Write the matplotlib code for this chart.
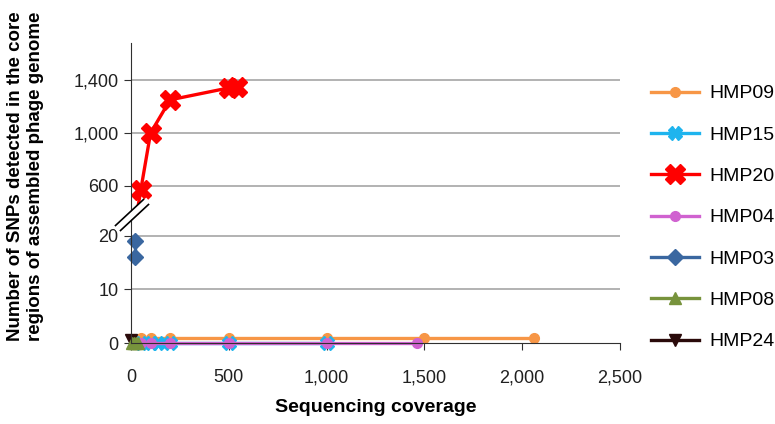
import matplotlib.pyplot as plt
import numpy as np

plt.rcParams['font.family'] = ['Liberation Sans', 'DejaVu Sans']

# coverage / SNP counts
hmp09_x = [50, 100, 200, 500, 1000, 1500, 2060]
hmp09_y = [1, 1, 1, 1, 1, 1, 1]
hmp15_x = [50, 100, 140, 200, 500, 1000]
hmp15_y = [0, 0, 0, 0, 0, 0]
hmp20_x = [20, 50, 100, 200, 500, 540]
hmp20_y = [300, 570, 1000, 1250, 1340, 1350]
hmp04_x = [50, 100, 200, 500, 1000, 1460]
hmp04_y = [0, 0, 0, 0, 0, 0]
hmp03_x = [20, 20]
hmp03_y = [16, 19]
hmp08_x = [5, 15, 25, 35]
hmp08_y = [0, 0, 0, 0]
hmp24_x = [0]
hmp24_y = [0.5]

fig = plt.figure(figsize=(7.75, 4.24), dpi=100)
L, W = 131 / 775, (620 - 131) / 775
ax_top = fig.add_axes([L, 1 - 215 / 424, W, (215 - 43) / 424])
ax_bot = fig.add_axes([L, 1 - 343 / 424, W, (343 - 215) / 424])

grid_c = '#a6a6a6'
for ax in (ax_top, ax_bot):
    ax.set_xlim(0, 2500)
    ax.spines['top'].set_visible(False)
    ax.spines['right'].set_visible(False)
    ax.spines['left'].set_color('#303030')
    ax.tick_params(axis='y', labelsize=13, length=5, color='#303030', pad=4,
                   labelcolor='#202020')
    ax.yaxis.grid(True, color=grid_c, linewidth=1.2)
    ax.set_axisbelow(True)

ax_top.set_ylim(381, 1679)
ax_top.set_yticks([600, 1000, 1400])
ax_top.set_yticklabels(['600', '1,000', '1,400'])
ax_top.spines['bottom'].set_visible(False)
ax_top.tick_params(axis='x', bottom=False, labelbottom=False)

ax_bot.set_ylim(0, 23.9)
ax_bot.set_yticks([0, 10, 20])
ax_bot.spines['bottom'].set_color('#303030')
ax_bot.set_xticks([0, 500, 1000, 1500, 2000, 2500])
ax_bot.set_xticklabels(['0', '500', '1,000', '1,500', '2,000', '2,500'])
ax_bot.tick_params(axis='x', labelsize=13, length=5, color='#303030', pad=14,
                   labelcolor='#202020')
ax_bot.yaxis.get_gridlines()[0].set_visible(False)

lw = 2.4
h09, = ax_bot.plot(hmp09_x, hmp09_y, color='#F79646', marker='o', ms=7, lw=lw, clip_on=False, label='HMP09')
h15, = ax_bot.plot(hmp15_x, hmp15_y, color='#1EB4EE', marker='X', ms=10, lw=lw, clip_on=False, label='HMP15')
h04, = ax_bot.plot(hmp04_x, hmp04_y, color='#D062D0', marker='o', ms=7, lw=lw, clip_on=False, label='HMP04')
h03, = ax_bot.plot(hmp03_x, hmp03_y, color='#3A67A0', marker='D', ms=8, lw=lw, clip_on=False, label='HMP03')
h24, = ax_bot.plot(hmp24_x, hmp24_y, color='#2A0A0A', marker='v', ms=8, lw=lw, clip_on=False, label='HMP24')
h08, = ax_bot.plot(hmp08_x, hmp08_y, color='#77933C', marker='^', ms=8, lw=lw, clip_on=False, label='HMP08')
h20, = ax_top.plot(hmp20_x, hmp20_y, color='#FF0000', marker='X', ms=14, lw=lw, label='HMP20')

# break marks on the y axis: white band between two black slashes
fig.add_artist(plt.Line2D([118 / 775, 146 / 775], [1 - 228 / 424, 1 - 202 / 424],
                          color='white', lw=4.5))
for off in (-2.5, 2.5):
    fig.add_artist(plt.Line2D([(118 + off) / 775, (146 + off) / 775],
                              [1 - (228 + off) / 424, 1 - (202 + off) / 424],
                              color='black', lw=1.2))

fig.text(0.033, 1 - 176 / 424,
         'Number of SNPs detected in the core\nregions of assembled phage genome',
         rotation=90, ha='center', va='center', fontsize=13.5, fontweight='bold',
         linespacing=1.2)
fig.text(L + W / 2, 1 - 408 / 424, 'Sequencing coverage', ha='center', va='center',
         fontsize=14, fontweight='bold')

fig.legend(handles=[h09, h15, h20, h04, h03, h08, h24],
           loc='upper left', bbox_to_anchor=(643 / 775, 1 - 77 / 424),
           frameon=False, fontsize=14, handlelength=2.5, labelspacing=1.22,
           handletextpad=0.5, borderaxespad=0)

fig.savefig('out.png', dpi=100)
